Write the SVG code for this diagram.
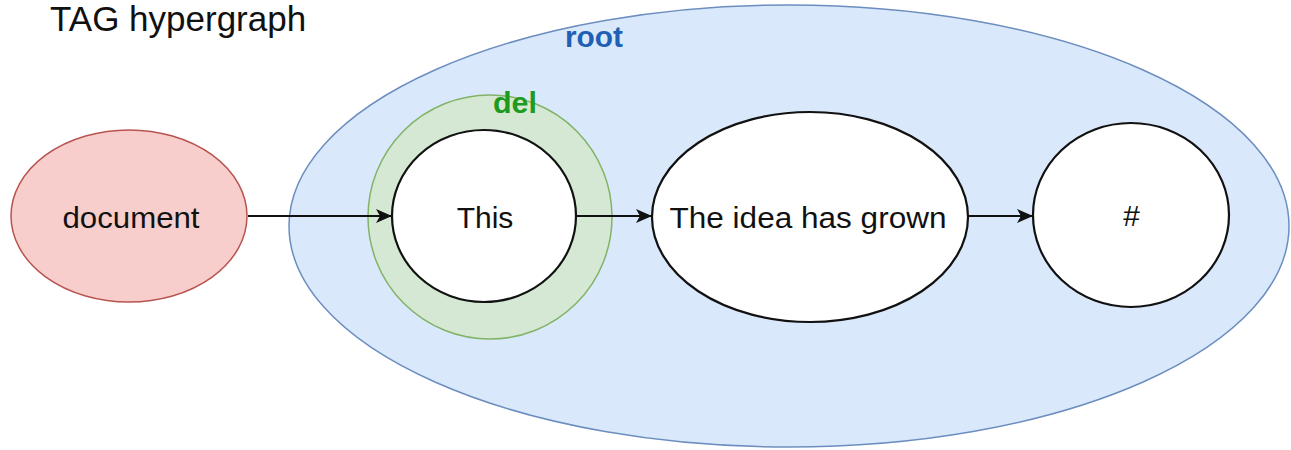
<svg xmlns="http://www.w3.org/2000/svg" width="1291" height="450" viewBox="0 0 1291 450">
  <style>
    .lbl { font-family: "Liberation Sans", Arial, sans-serif; font-size: 30px; fill: #111; text-anchor: middle; }
    .tag { font-family: "Liberation Sans", Arial, sans-serif; font-size: 30px; font-weight: bold; text-anchor: middle; }
    .node { fill: #ffffff; stroke: #111; stroke-width: 2.2; }
    .edge { fill: none; stroke: #111; stroke-width: 2.2; }
  </style>
  <defs>
    <marker id="arrow" viewBox="0 0 16 14" refX="15" refY="7" markerWidth="16" markerHeight="14" markerUnits="userSpaceOnUse" orient="auto">
      <path d="M0,0 L16,7 L0,14 L4,7 Z" fill="#111"/>
    </marker>
  </defs>
  <rect width="1291" height="450" fill="#ffffff"/>

  <text x="50" y="31" font-family="Liberation Sans, Arial, sans-serif" font-size="35" fill="#111">TAG hypergraph</text>

  <!-- hyperedge: root -->
  <g id="root">
    <ellipse cx="789" cy="226" rx="500" ry="221" fill="#dae8fc" stroke="#6c8ebf" stroke-width="1.5"/>
    <text class="tag" x="594" y="47" fill="#1f60b4" textLength="58" lengthAdjust="spacingAndGlyphs">root</text>
  </g>

  <!-- hyperedge: del -->
  <g id="del">
    <circle cx="490" cy="217" r="122" fill="#d5e8d4" stroke="#82b366" stroke-width="1.5"/>
    <text class="tag" x="515" y="113" fill="#1e9b1e" textLength="44" lengthAdjust="spacingAndGlyphs">del</text>
  </g>

  <g id="document">
    <ellipse cx="129" cy="216" rx="118" ry="86" fill="#f8cecc" stroke="#b85450" stroke-width="1.5"/>
    <text class="lbl" x="131" y="228" textLength="137" lengthAdjust="spacingAndGlyphs">document</text>
  </g>

  <g id="this">
    <ellipse class="node" cx="484" cy="216" rx="92" ry="86"/>
    <text class="lbl" x="485" y="228">This</text>
  </g>

  <g id="idea">
    <ellipse class="node" cx="810" cy="217" rx="158" ry="105"/>
    <text class="lbl" x="808" y="228" textLength="277" lengthAdjust="spacingAndGlyphs">The idea has grown</text>
  </g>

  <g id="hash">
    <ellipse class="node" cx="1131" cy="215" rx="98" ry="92"/>
    <text class="lbl" x="1131" y="226" font-style="italic" font-size="26">#</text>
  </g>

  <g id="connectors">
    <line class="edge" x1="248" y1="216" x2="391" y2="216" marker-end="url(#arrow)"/>
    <line class="edge" x1="577" y1="216" x2="651" y2="216" marker-end="url(#arrow)"/>
    <line class="edge" x1="968" y1="216" x2="1032" y2="216" marker-end="url(#arrow)"/>
  </g>
</svg>
